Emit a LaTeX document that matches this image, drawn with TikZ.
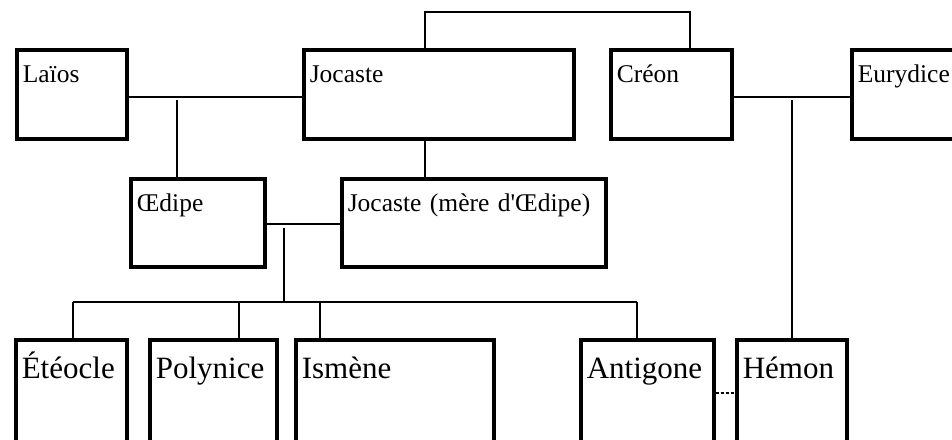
\documentclass[tikz,border=0pt]{standalone}
\usepackage{fontspec}
\setmainfont{Liberation Serif}[Ligatures=TeXOff]
\tikzset{
  person/.style={draw, line width=3.6pt, anchor=north west, inner xsep=6pt, inner ysep=0pt,
    align=left, font=\fontsize{25.5}{30}\selectfont},
  toprow/.style={person, text height=33pt, text depth=56pt},
  midrow/.style={person, text height=33pt, text depth=55pt},
  botrow/.style={person, font=\fontsize{31}{36}\selectfont, text height=39pt, text depth=81pt},
  link/.style={line width=1.4pt},
}
\begin{document}
\begin{tikzpicture}[x=1pt,y=-1pt]
\useasboundingbox (0,0) rectangle (952,439);
\clip (0,0) rectangle (952,439);
% persons
\node[toprow, text width=98pt] (laios) at (15,48) {Laïos};
\node[toprow, text width=258pt] (jocaste) at (302,48) {Jocaste};
\node[toprow, text width=109pt] (creon) at (609,48) {Créon};
\node[toprow, text width=138pt] (eurydice) at (850,48) {Eurydice};
\node[midrow, text width=122pt] (oedipe) at (129,177) {Œdipe};
\node[midrow, text width=252pt] (jocastem) at (340,177) {Jocaste (mère d'Œdipe)};
\node[botrow, text width=99pt] (eteocle) at (14,338) {Étéocle};
\node[botrow, text width=115pt] (polynice) at (148,338) {Polynice};
\node[botrow, text width=186pt] (ismene) at (294,338) {Ismène};
\node[botrow, text width=121pt] (antigone) at (579,338) {Antigone};
\node[botrow, text width=98pt] (hemon) at (735,338) {Hémon};
% helper coordinates
\coordinate (mLJ) at (0,97);
\coordinate (dO) at (177,100);
\coordinate (tJ) at (425,12);
\coordinate (tC) at (690,12);
\coordinate (dH) at (792,100);
\coordinate (mOJ) at (0,224);
\coordinate (dK) at (284,228);
\coordinate (c1) at (73,302);
\coordinate (c2) at (239,302);
\coordinate (c3) at (320,302);
\coordinate (c4) at (637,302);
\coordinate (mAH) at (0,393);
% connectors
\draw[link] (laios.east |- mLJ) -- (jocaste.west |- mLJ);
\draw[link] (dO) -- (oedipe.north -| dO);
\draw[link] (jocaste.north -| tJ) -- (tJ) -- (tC) -- (creon.north -| tC);
\draw[link] (jocaste.south -| tJ) -- (jocastem.north -| tJ);
\draw[link] (creon.east |- mLJ) -- (eurydice.west |- mLJ);
\draw[link] (dH) -- (hemon.north -| dH);
\draw[link] (oedipe.east |- mOJ) -- (jocastem.west |- mOJ);
\draw[link] (dK) -- (dK |- c1);
\draw[link] (c1) -- (c4);
\draw[link] (c1) -- (eteocle.north -| c1);
\draw[link] (c2) -- (polynice.north -| c2);
\draw[link] (c3) -- (ismene.north -| c3);
\draw[link] (c4) -- (antigone.north -| c4);
\draw[link, dash pattern=on 3pt off 2pt] (antigone.east |- mAH) -- (hemon.west |- mAH);
\end{tikzpicture}
\end{document}
